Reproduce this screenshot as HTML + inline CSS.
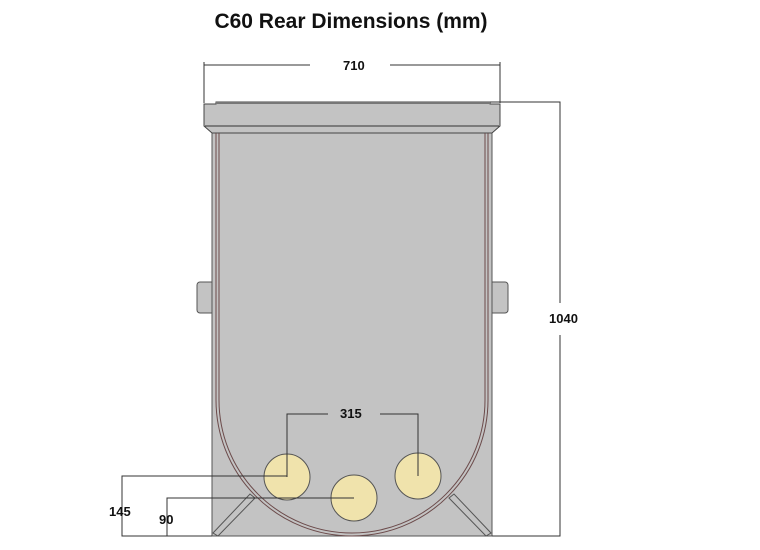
<!DOCTYPE html>
<html><head><style>body{margin:0;background:#fff}svg{display:block}</style></head><body>
<svg width="760" height="550" xmlns="http://www.w3.org/2000/svg" font-family="Liberation Sans, sans-serif">
<text x="351" y="28" text-anchor="middle" font-size="21" font-weight="bold" fill="#111">C60 Rear Dimensions (mm)</text>
<!-- lugs -->
<rect x="197" y="282" width="20" height="31" rx="3" fill="#c3c3c3" stroke="#555"/>
<rect x="487" y="282" width="21" height="31" rx="3" fill="#c3c3c3" stroke="#555"/>
<!-- body -->
<rect x="212" y="128" width="280" height="408" fill="#c3c3c3" stroke="#555"/>
<!-- flange -->
<polygon points="216,102 490,102 490,104 500,104 500,126 492,133 212,133 204,126 204,104 216,104" fill="#c3c3c3" stroke="#444"/>
<line x1="205" y1="126" x2="499" y2="126" stroke="#333"/>
<line x1="216" y1="103" x2="490" y2="103" stroke="#777" stroke-width="2"/>
<!-- inner U -->
<path d="M216,133 V400 A136,136 0 0 0 488,400 V133" fill="none" stroke="#6b4a4a" stroke-width="1"/>
<path d="M219,133 V400 A133,133 0 0 0 485,400 V133" fill="none" stroke="#6b4a4a" stroke-width="1"/>
<!-- feet -->
<polygon points="213,533 250,494 255,498 218,536" fill="#c3c3c3" stroke="#555"/>
<polygon points="491,533 454,494 449,498 486,536" fill="#c3c3c3" stroke="#555"/>
<!-- circles -->
<circle cx="287" cy="477" r="23" fill="#f0e3ac" stroke="#555"/>
<circle cx="418" cy="476" r="23" fill="#f0e3ac" stroke="#555"/>
<circle cx="354" cy="498" r="23" fill="#f0e3ac" stroke="#555"/>
<!-- dims -->
<g stroke="#333" fill="none" stroke-width="1">
<path d="M287,477 V414 H328 M380,414 H418 V476"/>
<path d="M287,476 H122 V536 H212"/>
<path d="M354,498 H167 V536"/>
<path d="M204,62 V103 M500,62 V103 M204,65 H310 M390,65 H500"/>
<path d="M490,102 H560 V303 M560,335 V536 H492"/>
</g>
<g font-size="13" font-weight="bold" fill="#111">
<text x="343" y="70">710</text>
<text x="340" y="418">315</text>
<text x="549" y="323">1040</text>
<text x="109" y="516">145</text>
<text x="159" y="524">90</text>
</g>
</svg>
</body></html>
